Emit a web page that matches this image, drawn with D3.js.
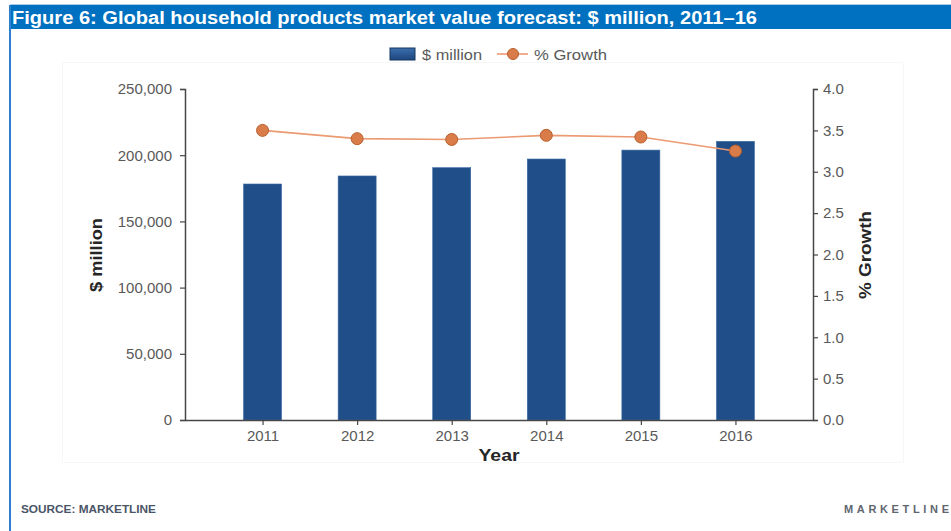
<!DOCTYPE html>
<html>
<head>
<meta charset="utf-8">
<script src="https://cdn.jsdelivr.net/npm/d3@7"></script>
<style>
  html, body { margin: 0; padding: 0; background: #fff; }
  svg { display: block; font-family: "Liberation Sans", Arial, sans-serif; }
</style>
</head>
<body>
<svg id="chart" width="951" height="531"></svg>
<script>
// Market value ($ million) and annual growth (%) by year
const years = ["2011", "2012", "2013", "2014", "2015", "2016"];
const marketValue = [178250, 184310, 190560, 197110, 203850, 210480];
const growthPct = [3.5, 3.4, 3.39, 3.44, 3.42, 3.25];
const leftTicks = [0, 50000, 100000, 150000, 200000, 250000];
const rightTicks = [0, 0.5, 1.0, 1.5, 2.0, 2.5, 3.0, 3.5, 4.0];

const svg = d3.select("#chart");
const W = 951, H = 531;

// Frame and title band
svg.append("rect").attr("x", 10).attr("y", 4).attr("width", W - 10).attr("height", 1)
  .attr("fill", "#a9cbea");
svg.append("rect").attr("x", 10).attr("y", 5).attr("width", W - 10).attr("height", 24)
  .attr("fill", "#0070c0");
svg.append("rect").attr("x", 9).attr("y", 5).attr("width", 2).attr("height", H - 5)
  .attr("fill", "#2f80cc");
svg.append("text").attr("x", 12).attr("y", 23.5)
  .attr("fill", "#ffffff").attr("font-weight", "bold").attr("font-size", 18)
  .attr("textLength", 745).attr("lengthAdjust", "spacingAndGlyphs")
  .text("Figure 6: Global household products market value forecast: $ million, 2011\u201316");

// Faint chart-area outline
svg.append("rect").attr("x", 62.5).attr("y", 62.5).attr("width", 841).attr("height", 400)
  .attr("fill", "none").attr("stroke", "#f7f7f7").attr("stroke-width", 1);

// Plot geometry
const x0 = 185, x1 = 813, yTop = 89, yBot = 420;

const x = d3.scalePoint().domain(years).range([x0, x1]).padding(0.82);
const yL = d3.scaleLinear().domain([0, 250000]).range([yBot, yTop]);
const yR = d3.scaleLinear().domain([0, 4]).range([yBot, yTop]);
const barW = 38;

// Bars
svg.append("g").selectAll("rect").data(years).join("rect")
  .attr("x", d => x(d) - barW / 2)
  .attr("y", (d, i) => yL(marketValue[i]))
  .attr("width", barW)
  .attr("height", (d, i) => yBot - yL(marketValue[i]))
  .attr("fill", "#1f4e89")
  .attr("stroke", "#3a6aa3").attr("stroke-width", 0.6);

// Axes
const axisColor = "#474747", labelColor = "#595959";
function styleAxis(g) {
  g.select(".domain").attr("stroke", axisColor).attr("stroke-width", 1.5);
  g.selectAll(".tick line").attr("stroke", axisColor).attr("stroke-width", 1.2);
  g.selectAll(".tick text").attr("fill", labelColor)
    .attr("font-size", 15).attr("font-family", "Liberation Sans, Arial, sans-serif");
}

svg.append("g").attr("transform", `translate(${x0},0)`)
  .call(d3.axisLeft(yL).tickValues(leftTicks).tickSize(5).tickPadding(8)
    .tickFormat(d3.format(",")))
  .call(styleAxis);

svg.append("g").attr("transform", `translate(${x1},0)`)
  .call(d3.axisRight(yR).tickValues(rightTicks).tickSize(5).tickPadding(5)
    .tickFormat(d3.format(".1f")))
  .call(styleAxis);

svg.append("g").attr("transform", `translate(0,${yBot})`)
  .call(d3.axisBottom(x).tickSize(5).tickPadding(5).tickSizeOuter(0))
  .call(styleAxis);

// Growth line and markers
const line = d3.line().x((d, i) => x(years[i])).y(d => yR(d));
svg.append("path").datum(growthPct).attr("d", line)
  .attr("fill", "none").attr("stroke", "#eb9a72").attr("stroke-width", 1.6);
svg.append("g").selectAll("circle").data(growthPct).join("circle")
  .attr("cx", (d, i) => x(years[i])).attr("cy", d => yR(d)).attr("r", 6)
  .attr("fill", "#d97c4a").attr("stroke", "#b8602e").attr("stroke-width", 1);

// Axis titles
svg.append("text").attr("transform", "translate(102,255) rotate(-90)")
  .attr("text-anchor", "middle").attr("font-weight", "bold").attr("font-size", 17)
  .attr("textLength", 74).attr("lengthAdjust", "spacingAndGlyphs")
  .attr("fill", "#262626").text("$ million");
svg.append("text").attr("transform", "translate(871,255) rotate(-90)")
  .attr("text-anchor", "middle").attr("font-weight", "bold").attr("font-size", 17)
  .attr("textLength", 88).attr("lengthAdjust", "spacingAndGlyphs")
  .attr("fill", "#262626").text("% Growth");
svg.append("text").attr("x", 499).attr("y", 461)
  .attr("text-anchor", "middle").attr("font-weight", "bold").attr("font-size", 16)
  .attr("textLength", 41).attr("lengthAdjust", "spacingAndGlyphs")
  .attr("fill", "#262626").text("Year");

// Legend
const grad = svg.append("defs").append("linearGradient").attr("id", "swatch")
  .attr("x1", 0).attr("y1", 0).attr("x2", 0).attr("y2", 1);
grad.append("stop").attr("offset", "0%").attr("stop-color", "#3d6fae");
grad.append("stop").attr("offset", "100%").attr("stop-color", "#1c467e");
const leg = svg.append("g");
leg.append("rect").attr("x", 390).attr("y", 48).attr("width", 25).attr("height", 12)
  .attr("fill", "url(#swatch)").attr("stroke", "#17375e").attr("stroke-width", 1);
leg.append("text").attr("x", 422).attr("y", 59.5).attr("font-size", 15)
  .attr("textLength", 60).attr("lengthAdjust", "spacingAndGlyphs")
  .attr("fill", labelColor).text("$ million");
leg.append("line").attr("x1", 497).attr("x2", 528).attr("y1", 54).attr("y2", 54)
  .attr("stroke", "#eb9a72").attr("stroke-width", 1.6);
leg.append("circle").attr("cx", 513).attr("cy", 54).attr("r", 5.5)
  .attr("fill", "#d97c4a").attr("stroke", "#b8602e").attr("stroke-width", 1);
leg.append("text").attr("x", 534).attr("y", 59.5).attr("font-size", 15)
  .attr("textLength", 73).attr("lengthAdjust", "spacingAndGlyphs")
  .attr("fill", labelColor).text("% Growth");

// Footer
svg.append("text").attr("x", 21).attr("y", 513).attr("font-size", 11.5)
  .attr("font-weight", "bold").attr("fill", "#4a5568")
  .attr("textLength", 135).attr("lengthAdjust", "spacingAndGlyphs")
  .text("SOURCE: MARKETLINE");
svg.append("text").attr("x", 844).attr("y", 513)
  .attr("font-size", 11).attr("font-weight", "bold")
  .attr("textLength", 105).attr("lengthAdjust", "spacing")
  .attr("fill", "#5f6670").text("MARKETLINE");
</script>
</body>
</html>
